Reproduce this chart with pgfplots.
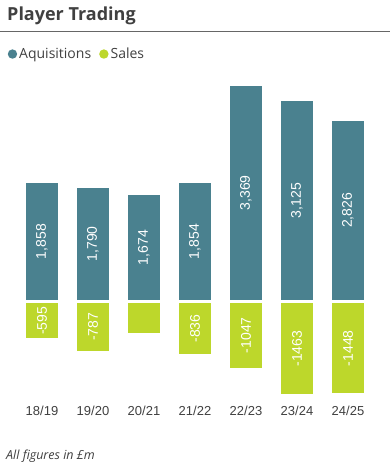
\documentclass[border=0pt]{standalone}
\usepackage{pgfplots}
\pgfplotsset{compat=1.18}
\usepackage{pgfplotstable}
\usepackage{fontspec}
\setmainfont{Open Sans}
\newfontfamily\arialfont{Liberation Sans}
\definecolor{acq}{HTML}{4A818F}
\definecolor{sal}{HTML}{BDD72B}
\definecolor{txt}{HTML}{404040}
\pgfplotstableread{
x acq sales acqlab saleslab
0 1858 -595 1,858 -595
1 1790 -787 1,790 -787
2 1674 -519 1,674 {}
3 1854 -836 1,854 -836
4 3369 -1047 3,369 -1047
5 3125 -1463 3,125 -1463
6 2826 -1448 2,826 -1448
}\data
\begin{document}
\begin{tikzpicture}[x=1pt,y=1pt]
\path[use as bounding box] (0,0) rectangle (390,471);
\node[anchor=base west, inner sep=0pt, font=\fontsize{18}{21}\selectfont\bfseries, text=txt] at (7,450) {Player Trading};
\draw[color=black!60, line width=1pt] (0,439) -- (390,439);
\node[anchor=base west, inner sep=0pt, font=\fontsize{12.5}{15}\selectfont\itshape, text=txt] at (6,12) {All figures in £m};
\begin{axis}[
  scale only axis,
  anchor=south west, at={(16.5pt,66.3pt)},
  width=357pt, height=328.95pt,
  xmin=-0.5, xmax=6.5, ymin=-1600, ymax=3500,
  axis line style={draw=none},
  ytick=\empty,
  xtick={0,1,2,3,4,5,6},
  xticklabels={18/19,19/20,20/21,21/22,22/23,23/24,24/25},
  major tick length=0pt,
  xticklabel style={font=\arialfont\fontsize{13}{15}\selectfont, text=txt, inner sep=1.5pt},
  clip=false,
  legend style={at={(rel axis cs:-0.025,1.066)}, anchor=west, draw=none, fill=none,
    legend columns=2, font=\fontsize{14}{16}\selectfont, text=txt, inner sep=0pt,
    /tikz/every even column/.append style={column sep=6pt}},
  legend cell align=left,
  legend image code/.code={\fill[draw=none] (1pt,0pt) circle (4.7pt);},
]
\addplot[ybar, bar shift=0pt, bar width=35pt, fill=acq, draw=white, line width=3pt] table[x=x,y=acq] {\data};
\addlegendentry{Aquisitions}
\addplot[ybar, bar shift=0pt, bar width=35pt, fill=sal, draw=white, line width=3pt] table[x=x,y=sales] {\data};
\addlegendentry{Sales}
\addplot[draw=none, mark=none, forget plot, nodes near coords, point meta=explicit symbolic,
  nodes near coords style={rotate=90, anchor=center, inner sep=0pt, text=white, font=\arialfont\fontsize{14}{16}\selectfont}]
  table[x=x, y expr=\thisrow{acq}/2, meta=acqlab] {\data};
\addplot[draw=none, mark=none, forget plot, nodes near coords, point meta=explicit symbolic,
  nodes near coords style={rotate=90, anchor=center, inner sep=0pt, text=white, font=\arialfont\fontsize{14}{16}\selectfont}]
  table[x=x, y expr=\thisrow{sales}/2, meta=saleslab] {\data};
\end{axis}
\end{tikzpicture}
\end{document}
